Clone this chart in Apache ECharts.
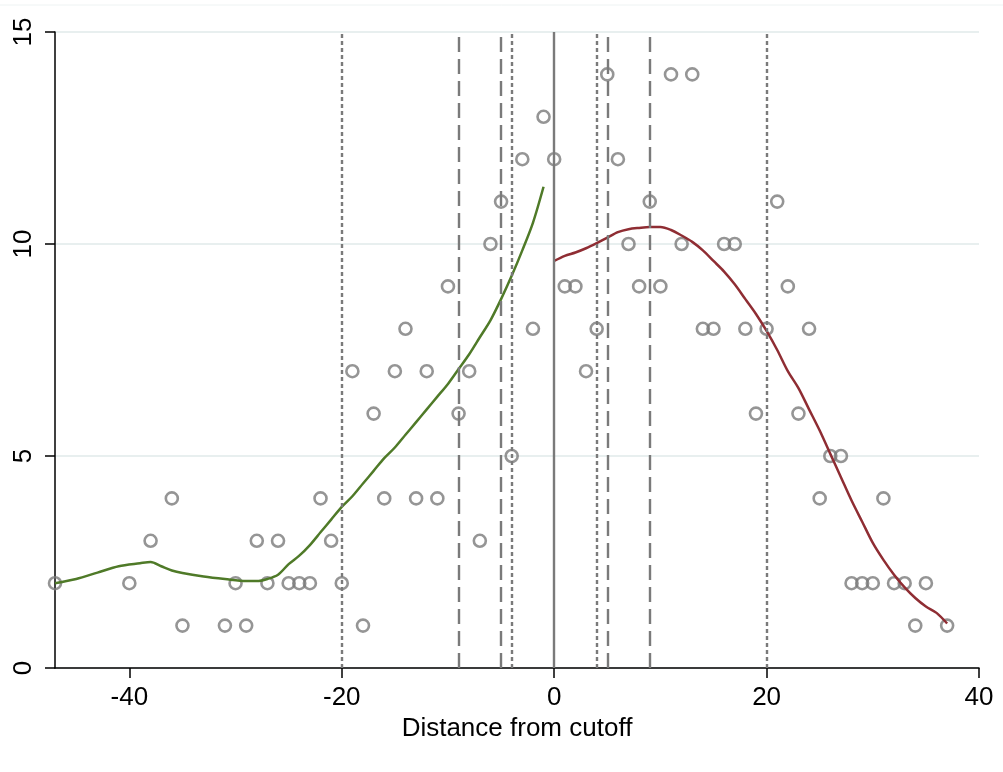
<!DOCTYPE html>
<html>
<head>
<meta charset="utf-8">
<script src="https://cdn.jsdelivr.net/npm/echarts@6/dist/echarts.min.js"></script>
<style>
  html, body { margin: 0; padding: 0; background: #fff; }
  #main { width: 1003px; height: 772px; }
</style>
</head>
<body>
<div id="main"></div>
<script>
var myChart = echarts.init(document.getElementById('main'));

// binned counts: distance from cutoff -> count
var pointX = [-47, -40, -38, -36, -35, -31, -30, -29, -28, -27, -26, -25, -24, -23, -22, -21, -20,
    -19, -18, -17, -16, -15, -14, -13, -12, -11, -10, -9, -8, -7, -6, -5, -4, -3, -2, -1,
    0, 1, 2, 3, 4, 5, 6, 7, 8, 9, 10, 11, 12, 13, 14, 15, 16, 17, 18, 19, 20,
    21, 22, 23, 24, 25, 26, 27, 28, 29, 30, 31, 32, 33, 34, 35, 37];
var pointY = [2, 2, 3, 4, 1, 1, 2, 1, 3, 2, 3, 2, 2, 2, 4, 3, 2,
    7, 1, 6, 4, 7, 8, 4, 7, 4, 9, 6, 7, 3, 10, 11, 5, 12, 8, 13,
    12, 9, 9, 7, 8, 14, 12, 10, 9, 11, 9, 14, 10, 14, 8, 8, 10, 10, 8, 6, 8,
    11, 9, 6, 8, 4, 5, 5, 2, 2, 2, 4, 2, 2, 1, 2, 1];

// smooth fit left of cutoff
var leftX = [-47, -45, -43, -41, -39, -38, -37, -36, -35, -33, -31, -29, -28, -27, -26, -25, -24,
    -23, -22, -21, -20, -19, -18, -17, -16, -15, -14, -13, -12, -11, -10, -9, -8, -7, -6,
    -5, -4, -3, -2, -1];
var leftY = [2.0, 2.1, 2.25, 2.4, 2.47, 2.5, 2.4, 2.3, 2.24, 2.16, 2.1, 2.05, 2.05, 2.1, 2.2, 2.45, 2.65,
    2.9, 3.2, 3.5, 3.8, 4.05, 4.35, 4.65, 4.95, 5.2, 5.5, 5.8, 6.1, 6.4, 6.7, 7.05, 7.4, 7.8, 8.2,
    8.7, 9.25, 9.85, 10.5, 11.35];

// smooth fit right of cutoff
var rightX = [0, 1, 2, 3, 4, 5, 6, 7, 8, 9, 10, 11, 12, 13, 14, 15, 16, 17, 18, 19, 20,
    21, 22, 23, 24, 25, 26, 27, 28, 29, 30, 31, 32, 33, 34, 35, 36, 37];
var rightY = [9.6, 9.72, 9.8, 9.9, 10.02, 10.15, 10.28, 10.35, 10.38, 10.4, 10.4, 10.33, 10.2, 10.05, 9.85, 9.6, 9.35, 9.05, 8.7, 8.35, 7.95,
    7.5, 7.0, 6.6, 6.1, 5.6, 5.05, 4.5, 3.95, 3.45, 2.95, 2.55, 2.2, 1.9, 1.65, 1.45, 1.3, 1.05];

// reference lines
var dottedLines = [-20, -4, 4, 20];
var dashedLines = [-9, -5, 5, 9];
var solidLines = [0];

var xTicks = [-40, -20, 0, 20, 40];

function zip(xs, ys) {
    return xs.map(function (x, i) { return [x, ys[i]]; });
}

function refLines(vals, type) {
    return {
        silent: true,
        symbol: ['none', 'none'],
        label: { show: false },
        lineStyle: { color: '#7a7a7a', width: 2.4, type: type, opacity: 1 },
        emphasis: { disabled: true },
        data: vals.map(function (v) { return { xAxis: v }; })
    };
}

var font = '"Liberation Sans", Arial, sans-serif';

var option = {
    backgroundColor: '#ffffff',
    animation: false,
    graphic: [{
        type: 'line',
        shape: { x1: 0, y1: 5, x2: 1003, y2: 5 },
        style: { stroke: '#eef3f3', lineWidth: 1 }
    }],
    grid: { left: 55, right: 24, top: 32, bottom: 104 },
    xAxis: {
        type: 'value',
        min: -47,
        max: 40,
        name: 'Distance from cutoff',
        nameLocation: 'middle',
        nameGap: 44,
        nameTextStyle: { color: '#000', fontSize: 26, fontFamily: font },
        axisLine: { onZero: false, lineStyle: { color: '#000', width: 1.5 } },
        axisTick: { show: true, length: 10, customValues: xTicks, lineStyle: { color: '#000', width: 1.5 } },
        axisLabel: { customValues: xTicks, color: '#000', fontSize: 26, fontFamily: font, margin: 17 },
        splitLine: { show: false }
    },
    yAxis: {
        type: 'value',
        min: 0,
        max: 15,
        interval: 5,
        axisLine: { show: true, onZero: false, lineStyle: { color: '#000', width: 1.5 } },
        axisTick: { show: true, length: 10, lineStyle: { color: '#000', width: 1.5 } },
        axisLabel: { color: '#000', fontSize: 26, fontFamily: font, rotate: 90, margin: 18 },
        splitLine: { show: true, lineStyle: { color: '#e8efef', width: 2 } }
    },
    series: [
        {
            type: 'line',
            data: [],
            markLine: refLines(dottedLines, [4, 3])
        },
        {
            type: 'line',
            data: [],
            markLine: refLines(dashedLines, [15, 7])
        },
        {
            type: 'line',
            data: [],
            markLine: refLines(solidLines, 'solid')
        },
        {
            name: 'counts',
            type: 'scatter',
            symbol: 'circle',
            symbolSize: 12,
            itemStyle: { color: 'rgba(0,0,0,0)', borderColor: '#7a7a7a', borderWidth: 2.6 },
            data: zip(pointX, pointY),
            z: 3
        },
        {
            name: 'left fit',
            type: 'line',
            showSymbol: false,
            smooth: 0.3,
            lineStyle: { color: '#4f7a28', width: 2.5 },
            data: zip(leftX, leftY),
            z: 4
        },
        {
            name: 'right fit',
            type: 'line',
            showSymbol: false,
            smooth: 0.3,
            lineStyle: { color: '#8f2d33', width: 2.5 },
            data: zip(rightX, rightY),
            z: 4
        }
    ]
};

myChart.setOption(option);
</script>
</body>
</html>
